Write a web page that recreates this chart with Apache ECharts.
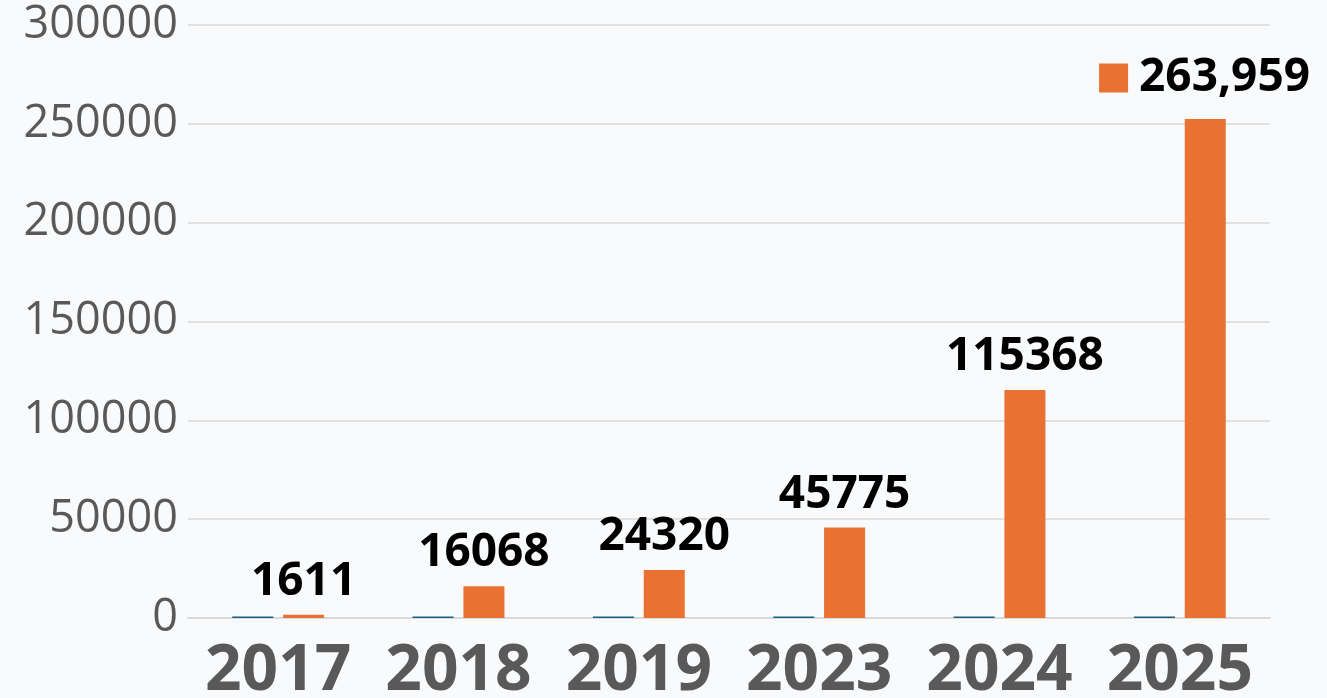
<!DOCTYPE html>
<html>
<head>
<meta charset="utf-8">
<script src="https://cdn.jsdelivr.net/npm/echarts@6/dist/echarts.min.js"></script>
<style>
  html, body { margin: 0; padding: 0; background: #f9fafc; }
  #chart { width: 1327px; height: 698px; }
</style>
</head>
<body>
<div id="chart"></div>
<script>
  // 年份
  var years = ['2017', '2018', '2019', '2023', '2024', '2025'];
  // 深色系列（几乎为零）
  var baseValues = [700, 700, 700, 700, 700, 700];
  // 橙色系列
  var mainValues = [1611, 16068, 24320, 45775, 115368, 252500];
  var mainName = '263,959';
  var yTicks = [0, 50000, 100000, 150000, 200000, 250000, 300000];

  var chart = echarts.init(document.getElementById('chart'));

  var option = {
    backgroundColor: '#f9fafc',
    textStyle: { fontFamily: 'Open Sans' },
    animation: false,
    legend: {
      data: [mainName],
      right: 12,
      top: 50,
      itemWidth: 29,
      itemHeight: 29,
      icon: 'rect',
      textStyle: {
        fontSize: 46,
        fontWeight: 'bold',
        color: '#000',
        fontFamily: 'Open Sans',
        padding: [0, 0, 0, 6]
      }
    },
    grid: {
      left: 188,
      right: 57,
      top: 25,
      bottom: 80,
      containLabel: false,
      outerBoundsMode: 'none'
    },
    xAxis: {
      type: 'category',
      data: years,
      axisTick: { show: false },
      axisLine: { lineStyle: { color: '#d9d9d9', width: 2 } },
      axisLabel: {
        interval: 0,
        fontSize: 64,
        fontWeight: 'bold',
        color: '#595959',
        margin: 22
      }
    },
    yAxis: {
      type: 'value',
      min: yTicks[0],
      max: yTicks[yTicks.length - 1],
      interval: 50000,
      axisLine: { show: false },
      axisTick: { show: false },
      splitLine: { lineStyle: { color: '#d9d9d9', width: 1.5 } },
      axisLabel: {
        fontSize: 45,
        color: '#595959',
        margin: 10,
        formatter: function (v){
          return String(v);
        }
      }
    },
    series: [
      {
        name: 'base',
        type: 'bar',
        data: baseValues,
        barWidth: 41,
        barGap: '24%',
        itemStyle: { color: '#156082' }
      },
      {
        name: mainName,
        type: 'bar',
        data: mainValues.map(function (v, i){
          return {
            value: v,
            label: { show: i < mainValues.length - 1 }
          };
        }),
        barWidth: 41,
        itemStyle: { color: '#E97132' },
        label: {
          show: true,
          position: 'top',
          distance: 10,
          fontSize: 46,
          fontWeight: 'bold',
          color: '#000'
        }
      }
    ]
  };

  chart.setOption(option);
</script>
</body>
</html>
